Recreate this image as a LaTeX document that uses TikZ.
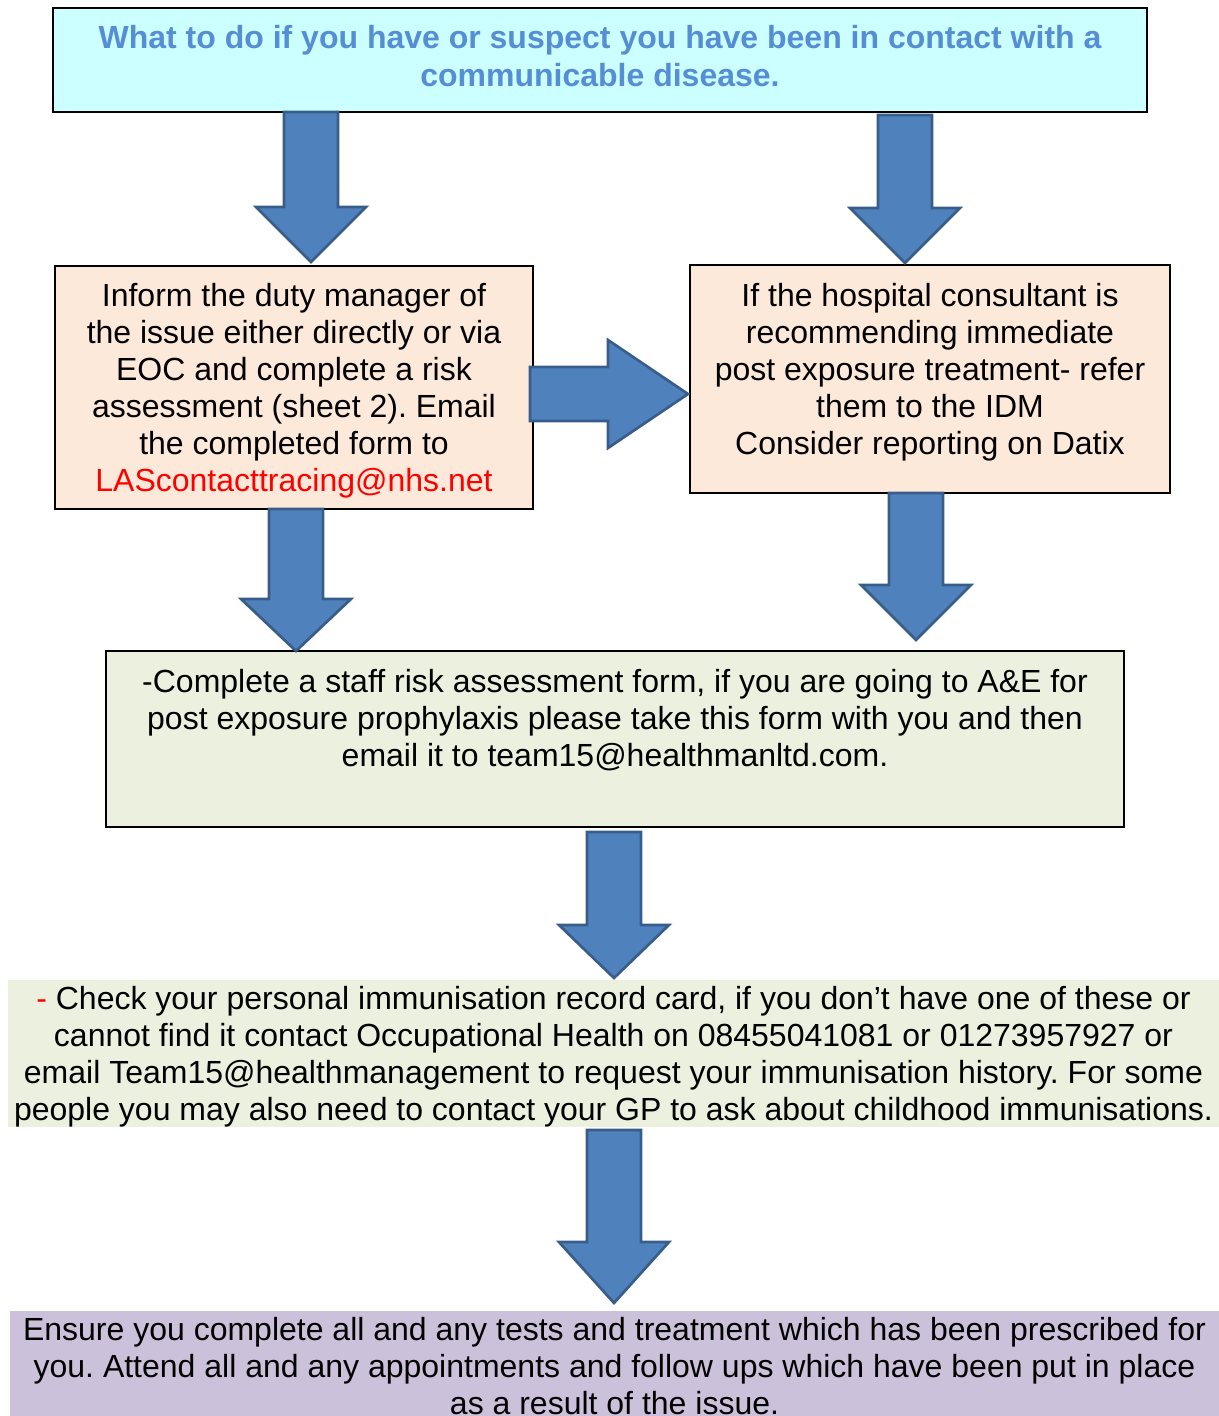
\documentclass[tikz,border=0pt]{standalone}
\usepackage{fontspec}
\setmainfont{Liberation Sans}
\usetikzlibrary{calc}
\frenchspacing

\definecolor{titlecyan}{RGB}{204,255,255}
\definecolor{titleblue}{RGB}{85,142,213}
\definecolor{peach}{RGB}{253,233,217}
\definecolor{palegreen}{RGB}{235,241,222}
\definecolor{lilac}{RGB}{204,193,218}
\definecolor{arrowblue}{RGB}{79,129,189}
\definecolor{arrowedge}{RGB}{56,93,138}

\tikzset{
  txt/.style={align=center, inner sep=0pt, outer sep=0pt, font=\fontsize{24pt}{27.75pt}\selectfont},
  box/.style={draw=black, line width=1.2pt, inner sep=0pt, outer sep=0pt},
  band/.style={inner sep=0pt, outer sep=0pt},
  blockarrow/.style={fill=arrowblue, draw=arrowedge, line width=2pt, line join=miter},
}

% block arrow pointing down: x from the start point, y from both
\newcommand{\downblock}[3][41.25pt]{%
  \draw[blockarrow] let \p1=(#2), \p2=(#3) in
    (\x1-20.25pt,\y1) -- (\x1+20.25pt,\y1) -- (\x1+20.25pt,\y2+#1) -- (\x1+41.25pt,\y2+#1)
    -- (\x1,\y2) -- (\x1-41.25pt,\y2+#1) -- (\x1-20.25pt,\y2+#1) -- cycle;}
% block arrow pointing right
\newcommand{\rightblock}[2]{%
  \draw[blockarrow] let \p1=(#1), \p2=(#2) in
    (\x1,\y1+20.25pt) -- (\x2-60pt,\y1+20.25pt) -- (\x2-60pt,\y1+40.5pt) -- (\x2,\y1)
    -- (\x2-60pt,\y1-40.5pt) -- (\x2-60pt,\y1-20.25pt) -- (\x1,\y1-20.25pt) -- cycle;}

\begin{document}
\begin{tikzpicture}[x=0.75pt,y=-0.75pt]
\useasboundingbox (0,0) rectangle (1219,1416);

% boxes
\node[box, fill=titlecyan, minimum width=820.5pt, minimum height=78pt] (title) at (600,60) {};
\node[box, fill=peach, minimum width=358.5pt, minimum height=182.25pt] (inform) at (294,387.5) {};
\node[box, fill=peach, minimum width=360pt, minimum height=171pt] (consult) at (930,379) {};
\node[box, fill=palegreen, minimum width=763.5pt, minimum height=132pt] (staff) at (615,739) {};
\node[band, fill=palegreen, minimum width=908.25pt, minimum height=110.25pt] (check) at (613.5,1053.5) {};
\node[band, fill=lilac, minimum width=906.75pt, minimum height=84pt] (ensure) at (614.5,1367) {};

% texts
\node[txt, text=titleblue, font=\fontsize{24pt}{28.5pt}\selectfont\bfseries] (titletext) at (600,56)
  {What to do if you have or suspect you have been in contact with a\\communicable disease.};
\node[txt] (informtext) at (294,391)
  {Inform the duty manager of\\the issue either directly or via\\EOC and complete a risk\\assessment (sheet 2). Email\\the completed form to\\\textcolor{red}{LAScontacttracing@nhs.net}};
\node[txt] (consulttext) at (930,372)
  {If the hospital consultant is\\recommending immediate\\post exposure treatment- refer\\them to the IDM\\Consider reporting on Datix};
\node[txt] (stafftext) at (615,720)
  {-Complete a staff risk assessment form, if you are going to A\&E for\\post exposure prophylaxis please take this form with you and then\\email it to team15@healthmanltd.com.};
\node[txt] (checktext) at (613.5,1056.5)
  {\textcolor{red}{-} Check your personal immunisation record card, if you don’t have one of these or\\cannot find it contact Occupational Health on 08455041081 or 01273957927 or\\email Team15@healthmanagement to request your immunisation history. For some\\people you may also need to contact your GP to ask about childhood immunisations.};
\node[txt] (ensuretext) at (614.5,1366)
  {Ensure you complete all and any tests and treatment which has been prescribed for\\you. Attend all and any appointments and follow ups which have been put in place\\as a result of the issue.};

% arrows
\downblock{$(title.south)+(-289,0)$}{$(inform.north)+(0,-4)$}
\downblock{$(title.south)+(305,3)$}{$(consult.north)+(0,-2)$}
\rightblock{$(inform.east)+(-3,6.5)$}{$(consult.west)+(-2,0)$}
\downblock[39pt]{$(inform.south)+(2,0)$}{staff.north}
\downblock{$(consult.south)+(-14,0)$}{$(staff.north)+(0,-11)$}
\downblock[39.75pt]{$(staff.south)+(-1,5)$}{$(check.north)+(0,-2)$}
\downblock[45.75pt]{$(check.south)+(0.5,3)$}{$(ensure.north)+(0,-8)$}

\end{tikzpicture}
\end{document}
